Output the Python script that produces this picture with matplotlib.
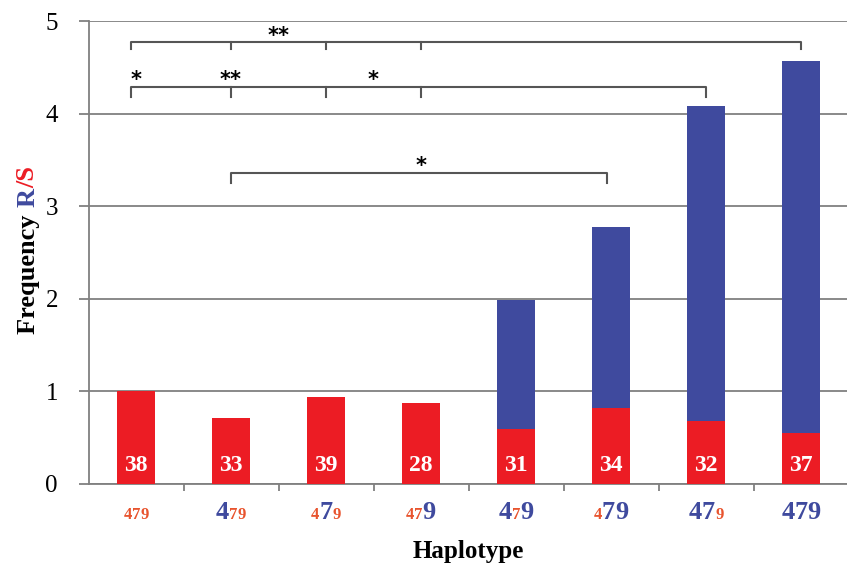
import matplotlib
matplotlib.use("Agg")
import matplotlib.pyplot as plt

# Haplotype bars: red part (S) and blue part stacked on top (R)
counts = [38, 33, 39, 28, 31, 34, 32, 37]
red_vals = [1.0, 0.71, 0.94, 0.87, 0.59, 0.82, 0.68, 0.55]
blue_vals = [0.0, 0.0, 0.0, 0.0, 1.40, 1.96, 3.40, 4.02]

# tick labels: which digit of "479" is large/blue (True) or small/red (False)
digits = ["4", "7", "9"]
label_big = [
    [False, False, False],
    [True, False, False],
    [False, True, False],
    [False, False, True],
    [True, False, True],
    [False, True, True],
    [True, True, False],
    [True, True, True],
]

# significance brackets: (left, right, inner ticks, height, drop)
brackets = [
    (-0.05, 7, [1, 2, 3], 4.77, 0.07),
    (-0.05, 6, [1, 2, 3], 4.29, 0.11),
    (1, 4.96, [], 3.36, 0.11),
]
stars = [("**", 1.5, 4.84), ("*", 0, 4.36), ("**", 1, 4.36),
         ("*", 2.5, 4.36), ("*", 3, 3.43)]

RED = "#ec1c24"
BLUE = "#3f4a9e"
TXT_RED = "#e8542e"
GRID = "#808080"

plt.rcParams['font.family'] = ['Liberation Serif', 'DejaVu Serif']

fig = plt.figure(figsize=(8.47, 5.69), dpi=100)
ax = fig.add_axes([88.5 / 847, 85 / 569, 760 / 847, 463 / 569])

x = list(range(len(counts)))
ax.bar(x, red_vals, width=0.41, color=RED, zorder=3)
ax.bar(x, blue_vals, width=0.41, bottom=red_vals, color=BLUE, zorder=3)

for i, c in enumerate(counts):
    ax.text(i, 0.2, str(c), ha="center", va="center", color="white",
            fontsize=17, fontweight="bold", zorder=4)

ax.set_xlim(-0.5, 7.5)
ax.set_ylim(0, 5)
ax.set_yticks([0, 1, 2, 3, 4, 5])
ax.yaxis.grid(True, color=GRID, lw=1.3, zorder=0)
ax.set_axisbelow(True)
for s in ["top", "right"]:
    ax.spines[s].set_visible(False)
for s in ["left", "bottom"]:
    ax.spines[s].set_color(GRID)
    ax.spines[s].set_linewidth(1.3)
ax.tick_params(axis="y", length=7, width=1.3, color=GRID, pad=15, labelsize=18)
ax.set_xticks([i + 0.5 for i in range(7)])
ax.set_xticklabels([])
ax.tick_params(axis="x", length=5, width=1.3, color=GRID)

# brackets and stars
for left, right, inner, h, d in brackets:
    ax.plot([left, left, right, right], [h - d, h, h, h - d], color="#555555",
            lw=1.5, zorder=5, clip_on=False)
    for t in inner:
        ax.plot([t, t], [h, h - d], color="#555555", lw=1.5, zorder=5)
for s, sx, sy in stars:
    ax.text(sx, sy, s, ha="center", va="center", fontsize=15,
            fontweight="bold", color="black", family="DejaVu Sans")

# mixed-size tick labels
fig.canvas.draw()
renderer = fig.canvas.get_renderer()
px_per_unit = ax.transData.transform((1, 0))[0] - ax.transData.transform((0, 0))[0]
trans = ax.get_xaxis_transform()
for i, bigs in enumerate(label_big):
    pieces = []
    for ch, big in zip(digits, bigs):
        t = ax.text(0, -0.075, ch, transform=trans, ha="left", va="baseline",
                    fontsize=19 if big else 12, fontweight="bold",
                    color=BLUE if big else TXT_RED, clip_on=False)
        pieces.append(t)
    widths = [p.get_window_extent(renderer).width for p in pieces]
    total = sum(widths)
    pos = i - total / 2 / px_per_unit
    for p, w in zip(pieces, widths):
        p.set_x(pos)
        pos += w / px_per_unit

ax.set_xlabel("Haplotype", fontsize=18, fontweight="bold", labelpad=32)

# y label with coloured R/S
ylab_parts = [("Frequency ", "black"), ("R", BLUE), ("/S", RED)]
texts = []
for s, col in ylab_parts:
    t = fig.text(28 / 847, 0, s, rotation=90, ha="center", va="bottom",
                 fontsize=19, fontweight="bold", color=col)
    texts.append(t)
fig.canvas.draw()
heights = [t.get_window_extent(renderer).height for t in texts]
y0 = (569 - 250) - sum(heights) / 2
for t, h in zip(texts, heights):
    t.set_y(y0 / 569)
    y0 += h

fig.savefig("out.png", dpi=100)
